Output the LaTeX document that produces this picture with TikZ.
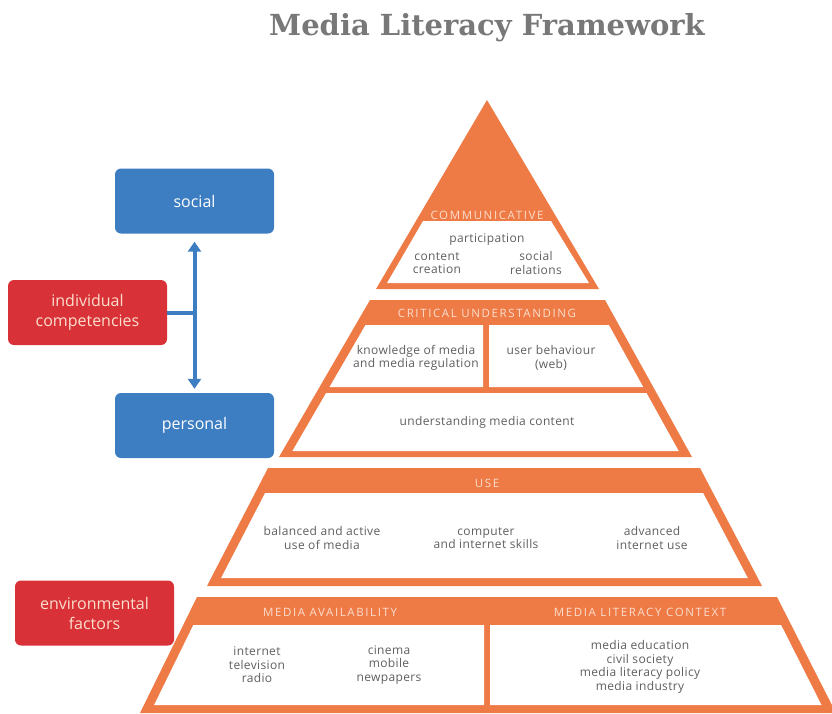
\documentclass[tikz,border=0pt]{standalone}
\usepackage{fontspec}
\setmainfont{Open Sans}
\newfontfamily\titlefont{DejaVu Serif}
\newfontfamily\itemfont[LetterSpace=3]{Open Sans}
\newfontfamily\capsfont[LetterSpace=14]{Open Sans}
\usetikzlibrary{arrows.meta}

\definecolor{tierorange}{RGB}{238,122,70}
\definecolor{boxblue}{RGB}{61,125,193}
\definecolor{boxred}{RGB}{216,50,56}
\definecolor{textgray}{RGB}{95,95,95}
\definecolor{headpeach}{RGB}{252,222,205}
\definecolor{titlegray}{RGB}{120,120,120}

\tikzset{
  tier/.style={fill=tierorange},
  cell/.style={fill=white},
  item/.style={text=textgray, align=center, font=\itemfont\fontsize{12}{13.5}\selectfont},
  head/.style={text=headpeach, font=\capsfont\fontsize{11.5}{13}\selectfont},
  sidebox/.style={rounded corners=6pt, minimum width=159pt, minimum height=65pt,
    align=center, font=\fontsize{16}{20}\selectfont},
  level/.style={sidebox, fill=boxblue, text=white},
  factor/.style={sidebox, fill=boxred, text=headpeach},
  link/.style={draw=boxblue, line width=4pt},
}

\begin{document}
\begin{tikzpicture}[x=1pt,y=-1pt]
        \useasboundingbox (0,0) rectangle (832,713);
        % title
        \node[font=\titlefont\bfseries\fontsize{29}{35}\selectfont, text=titlegray] (title) at (487,28) {Media Literacy Framework};
        % left boxes
        \node[level] (social) at (194.5,201) {social};
        \node[level] (personal) at (194.5,425.5) {personal};
        \node[factor] (indiv) at (87.5,312.5) {individual\\competencies};
        \node[factor] (env) at (94.5,613) {environmental\\factors};
        % arrows
        \draw[link, {Triangle[width=13pt,length=10pt]}-{Triangle[width=13pt,length=10pt]},
          shorten <=8pt, shorten >=4pt] (social.south) -- (personal.north);
        \draw[link] (indiv.east) -- (indiv.east -| social.south);
        % communicative
        \fill[tier] (487,100) -- (599,289) -- (376,289) -- cycle;
        \fill[cell] (423,221) -- (551,221) -- (589,283) -- (387,283) -- cycle;
        % critical understanding
        \fill[tier] (370,300) -- (605,300) -- (692,457) -- (279,457) -- cycle;
        \fill[cell] (365.5,325) -- (483,325) -- (483,387) -- (329.5,387) -- cycle;
        \fill[cell] (489,325) -- (608.9,325) -- (643.2,387) -- (489,387) -- cycle;
        \fill[cell] (326.1,393) -- (646.5,393) -- (678.7,451) -- (292.4,451) -- cycle;
        % use
        \fill[tier] (268,468) -- (700,468) -- (762,586) -- (207,586) -- cycle;
        \fill[cell] (265.1,493) -- (703.1,493) -- (747.8,578) -- (221.1,578) -- cycle;
        % availability and context
        \fill[tier] (197,597) -- (777,597) -- (836,713) -- (140,713) -- cycle;
        \fill[cell] (193.3,625) -- (484,625) -- (484,705) -- (154.1,705) -- cycle;
        \fill[cell] (490,625) -- (781.1,625) -- (821.5,705) -- (490,705) -- cycle;
        % texts
        \node[head] (commhead) at (487,215) {COMMUNICATIVE};
        \node[item] (particip) at (487,240) {participation};
        \node[item] (creation) at (437,263) {content\\creation};
        \node[item] (relations) at (536,263) {social\\relations};
        \node[head] (crithead) at (487,313) {CRITICAL UNDERSTANDING};
        \node[item] (knowledge) at (416,358) {knowledge of media\\and media regulation};
        \node[item] (behaviour) at (551,358) {user behaviour\\(web)};
        \node[item] (content) at (487,422) {understanding media content};
        \node[head] (usehead) at (487,483) {USE};
        \node[item] (balanced) at (322,538) {balanced and active\\use of media};
        \node[item] (skills) at (486,538) {computer\\and internet skills};
        \node[item] (advanced) at (652,538) {advanced\\internet use};
        \node[head] (availhead) at (330,612) {MEDIA AVAILABILITY};
        \node[head] (contexthead) at (640,612) {MEDIA LITERACY CONTEXT};
        \node[item] (channels) at (257,665) {internet\\television\\radio};
        \node[item] (devices) at (389,665) {cinema\\mobile\\newpapers};
        \node[item] (context) at (640,667) {media education\\civil society\\media literacy policy\\media industry};
\end{tikzpicture}
\end{document}
